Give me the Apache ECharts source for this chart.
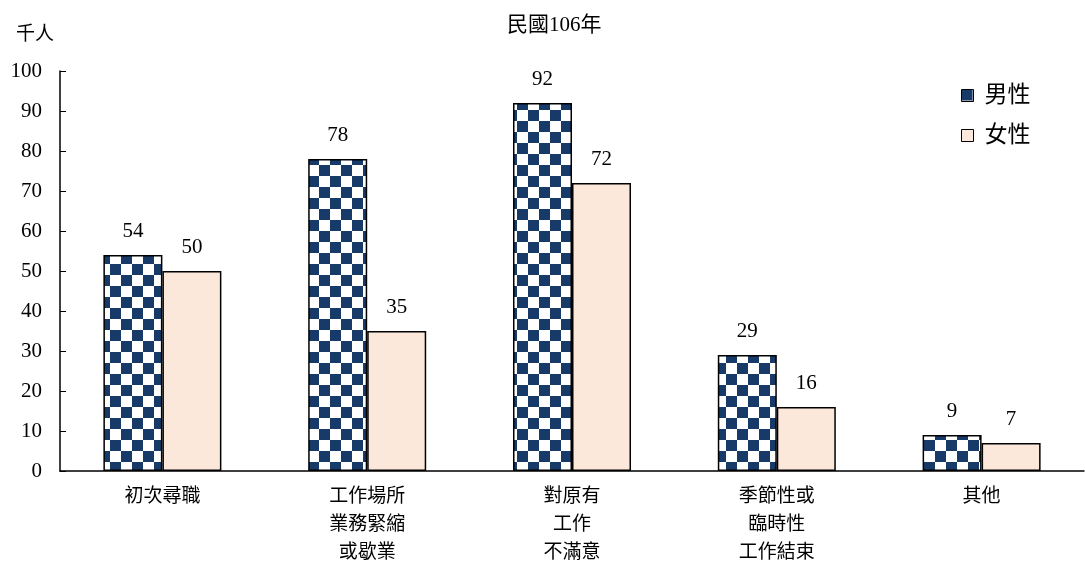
<!DOCTYPE html>
<html>
<head>
<meta charset="utf-8">
<script src="https://cdn.jsdelivr.net/npm/echarts@6/dist/echarts.min.js"></script>
<style>html,body{margin:0;padding:0;background:#fff;overflow:hidden}#c{width:1085px;height:563px}</style>
</head>
<body>
<div id="c"></div>
<script>
const categories = ['初次尋職', '工作場所\n業務緊縮\n或歇業', '對原有\n工作\n不滿意', '季節性或\n臨時性\n工作結束', '其他'];
const maleValues = [54, 78, 92, 29, 9];
const femaleValues = [50, 35, 72, 16, 7];
const seriesNames = ['男性', '女性'];
const titleText = '民國106年';
const unitText = '千人';

const FONT = '"Liberation Serif", "Noto Sans CJK TC", serif';
const NAVY = '#173a69';
const PEACH = '#fce8db';

function checker() {
  const c = document.createElement('canvas');
  const s = 11;
  c.width = s * 2; c.height = s * 2;
  const g = c.getContext('2d');
  g.fillStyle = '#ffffff'; g.fillRect(0, 0, s * 2, s * 2);
  g.fillStyle = NAVY;
  g.fillRect(0, 0, s, s);
  g.fillRect(s, s, s, s);
  return c;
}
const pat = { image: checker(), repeat: 'repeat' };

const chart = echarts.init(document.getElementById('c'), null, { renderer: 'canvas', width: 1085, height: 563 });
chart.setOption({
  animation: false,
  title: {
    text: titleText, left: 502, top: 10,
    textStyle: { fontFamily: FONT, fontSize: 21, fontWeight: 'normal', color: '#000' }
  },
  legend: {
    orient: 'vertical', left: 956, top: 79, itemGap: 17,
    itemWidth: 12, itemHeight: 12, icon: 'rect',
    textStyle: { fontFamily: FONT, fontSize: 23, color: '#000', padding: [0, 0, 0, 6] },
    data: [
      { name: seriesNames[0], itemStyle: { color: pat, borderColor: '#000', borderWidth: 1 } },
      { name: seriesNames[1], itemStyle: { color: PEACH, borderColor: '#000', borderWidth: 1 } }
    ]
  },
  grid: { left: 60, right: 1, top: 71, height: 400, containLabel: false, outerBoundsMode: 'none' },
  xAxis: {
    type: 'category', data: categories,
    axisLine: { lineStyle: { color: '#000', width: 1.5 } },
    axisTick: { inside: true, length: 6, lineStyle: { color: '#000' } },
    axisLabel: { fontFamily: FONT, fontSize: 19, color: '#000', lineHeight: 28, margin: 12 }
  },
  yAxis: {
    type: 'value', min: 0, max: 100, interval: 10,
    name: unitText, nameLocation: 'end', nameGap: 26,
    nameTextStyle: { fontFamily: FONT, fontSize: 19, color: '#000', align: 'center', padding: [0, 50, 0, 0] },
    axisLine: { show: true, lineStyle: { color: '#000', width: 1.5 } },
    axisTick: { show: true, inside: true, length: 6, lineStyle: { color: '#000' } },
    splitLine: { show: false },
    axisLabel: { fontFamily: FONT, fontSize: 21, color: '#000', margin: 18 }
  },
  series: [
    {
      name: seriesNames[0], type: 'bar', data: maleValues, barWidth: 59, barGap: '0%',
      itemStyle: { color: pat, borderColor: '#000', borderWidth: 1.5 },
      label: { show: true, position: 'top', distance: 13, fontFamily: FONT, fontSize: 21, color: '#000' }
    },
    {
      name: seriesNames[1], type: 'bar', data: femaleValues, barWidth: 59,
      itemStyle: { color: PEACH, borderColor: '#000', borderWidth: 1.5 },
      label: { show: true, position: 'top', distance: 13, fontFamily: FONT, fontSize: 21, color: '#000' }
    }
  ]
});
</script>
</body>
</html>
